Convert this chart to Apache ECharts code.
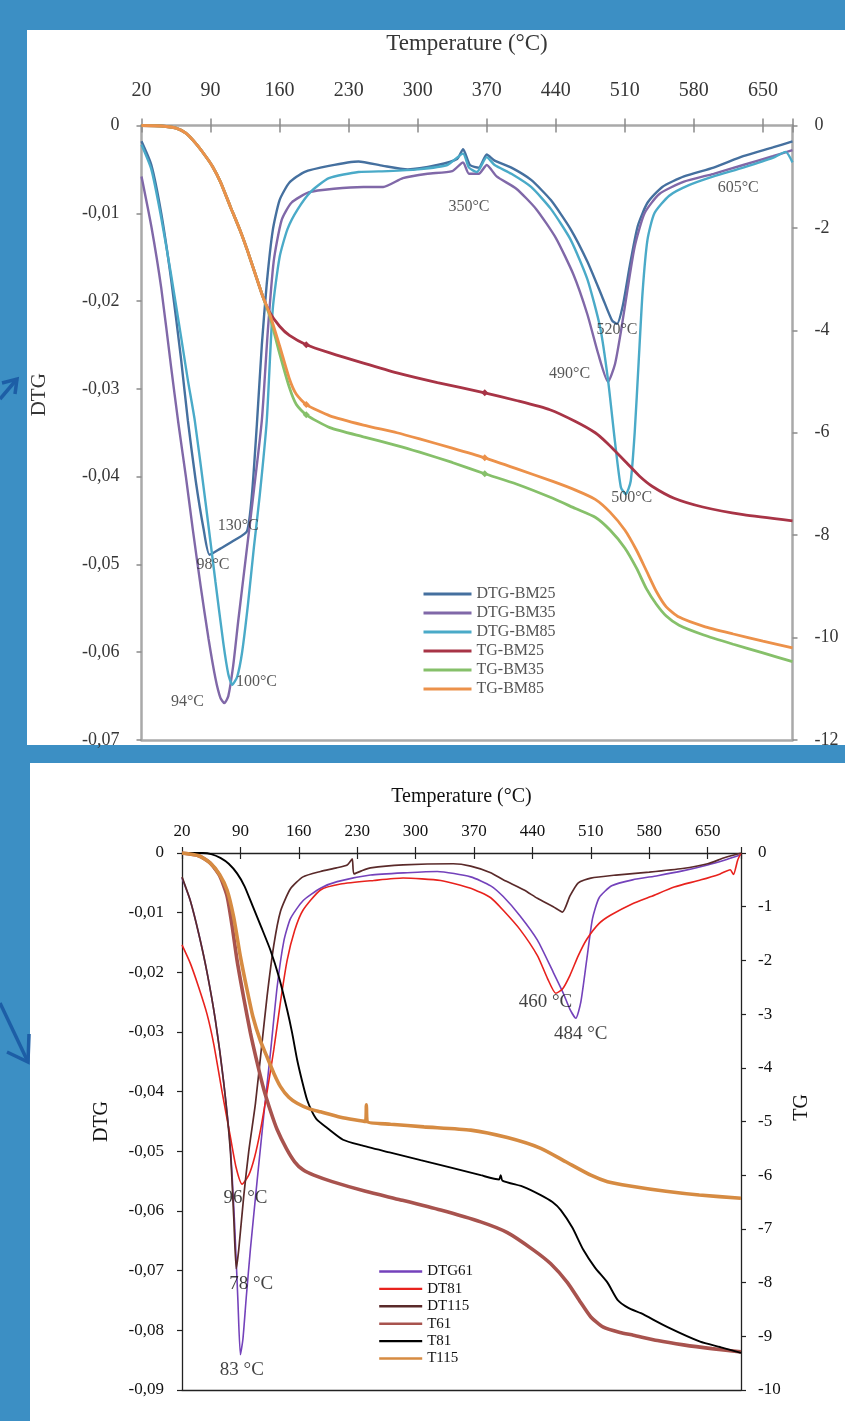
<!DOCTYPE html>
<html><head><meta charset="utf-8">
<script src="https://cdn.jsdelivr.net/npm/echarts@6/dist/echarts.min.js"></script>
<style>html,body{margin:0;padding:0;background:#3c8fc4}#c{width:845px;height:1421px}</style>
</head><body><div id="c"></div>
<script>
// ---------- tick labels ----------
const tempTicks = [20, 90, 160, 230, 300, 370, 440, 510, 580, 650];

// ---------- TOP chart: DTG series [T, DTG] ----------
const dtgBM25 = [[20,-0.0018],[30,-0.0045],[40,-0.0100],[50,-0.0175],[60,-0.0265],[67,-0.0336],[75,-0.0405],[83,-0.0460],[89,-0.0489],[100,-0.0482],[115,-0.0472],[127,-0.0462],[132,-0.0420],[137,-0.0340],[142,-0.0250],[147,-0.0180],[153,-0.0120],[160,-0.0085],[170,-0.0065],[185,-0.0053],[210,-0.0046],[240,-0.0041],[265,-0.0046],[290,-0.0050],[320,-0.0045],[340,-0.0038],[346,-0.0027],[353,-0.0045],[362,-0.0048],[370,-0.0033],[378,-0.0040],[395,-0.0048],[415,-0.0062],[435,-0.0085],[455,-0.0118],[472,-0.0155],[487,-0.0195],[497,-0.0222],[502,-0.0226],[508,-0.0205],[515,-0.0160],[523,-0.0115],[533,-0.0088],[548,-0.0070],[570,-0.0058],[600,-0.0048],[630,-0.0035],[660,-0.0025],[680,-0.0018]];
const dtgBM35 = [[20,-0.0058],[30,-0.0115],[40,-0.0185],[50,-0.0275],[57,-0.0336],[65,-0.0400],[72,-0.0460],[80,-0.0525],[88,-0.0585],[95,-0.0630],[100,-0.0652],[104,-0.0658],[108,-0.0650],[113,-0.0615],[118,-0.0565],[126,-0.0490],[134,-0.0415],[142,-0.0336],[148,-0.0235],[154,-0.0155],[162,-0.0108],[172,-0.0088],[190,-0.0076],[215,-0.0072],[245,-0.0070],[265,-0.0070],[285,-0.0060],[310,-0.0055],[335,-0.0052],[346,-0.0042],[352,-0.0055],[362,-0.0055],[370,-0.0045],[380,-0.0058],[400,-0.0072],[420,-0.0095],[440,-0.0128],[458,-0.0170],[472,-0.0215],[483,-0.0260],[493,-0.0292],[500,-0.0272],[506,-0.0235],[513,-0.0185],[520,-0.0138],[530,-0.0100],[545,-0.0078],[570,-0.0064],[600,-0.0055],[630,-0.0045],[660,-0.0035],[680,-0.0028]];
const dtgBM85 = [[20,-0.0022],[30,-0.0050],[40,-0.0105],[50,-0.0170],[60,-0.0240],[67,-0.0290],[74,-0.0336],[85,-0.0430],[95,-0.0520],[103,-0.0590],[108,-0.0625],[112,-0.0637],[117,-0.0628],[122,-0.0600],[128,-0.0545],[134,-0.0480],[140,-0.0420],[147,-0.0336],[153,-0.0210],[160,-0.0150],[168,-0.0118],[178,-0.0096],[192,-0.0075],[210,-0.0060],[240,-0.0053],[270,-0.0052],[300,-0.0050],[330,-0.0045],[346,-0.0032],[352,-0.0048],[360,-0.0053],[370,-0.0036],[378,-0.0045],[395,-0.0055],[415,-0.0070],[435,-0.0095],[455,-0.0130],[472,-0.0175],[485,-0.0230],[493,-0.0290],[500,-0.0360],[506,-0.0412],[511,-0.0420],[516,-0.0405],[520,-0.0350],[524,-0.0270],[528,-0.0190],[533,-0.0130],[540,-0.0100],[555,-0.0080],[575,-0.0068],[600,-0.0058],[630,-0.0048],[660,-0.0037],[673,-0.0030],[680,-0.0042]];

// ---------- TOP chart: TG series [T, TG] ----------
const tgBM25 = [[20,0],[40,-0.01],[55,-0.05],[65,-0.15],[75,-0.35],[85,-0.6],[92,-0.8],[100,-1.1],[110,-1.58],[120,-2.05],[127,-2.42],[135,-2.88],[143,-3.34],[150,-3.65],[160,-3.92],[170,-4.1],[187,-4.28],[211,-4.44],[245,-4.64],[279,-4.83],[320,-5.02],[368,-5.22],[400,-5.37],[434,-5.55],[460,-5.78],[480,-6.0],[492,-6.2],[512,-6.59],[525,-6.85],[538,-7.05],[560,-7.28],[589,-7.45],[630,-7.6],[680,-7.72]];
const tgBM35 = [[20,0],[40,-0.01],[55,-0.05],[65,-0.15],[75,-0.35],[85,-0.6],[92,-0.8],[100,-1.1],[110,-1.58],[120,-2.05],[127,-2.42],[135,-2.88],[143,-3.34],[150,-3.72],[160,-4.45],[170,-5.12],[177,-5.45],[187,-5.65],[211,-5.9],[245,-6.08],[279,-6.25],[302,-6.38],[335,-6.58],[368,-6.8],[400,-7.0],[437,-7.28],[460,-7.48],[480,-7.65],[495,-7.9],[510,-8.25],[522,-8.65],[532,-9.05],[542,-9.35],[552,-9.58],[565,-9.76],[590,-9.95],[620,-10.13],[650,-10.3],[680,-10.47]];
const tgBM85 = [[20,0],[40,-0.01],[55,-0.05],[65,-0.15],[75,-0.35],[85,-0.6],[92,-0.8],[100,-1.1],[110,-1.58],[120,-2.05],[127,-2.42],[135,-2.88],[143,-3.34],[150,-3.68],[160,-4.3],[170,-4.95],[177,-5.25],[187,-5.45],[211,-5.67],[245,-5.85],[279,-6.0],[302,-6.12],[335,-6.3],[368,-6.49],[400,-6.7],[437,-6.95],[460,-7.12],[480,-7.3],[495,-7.55],[510,-7.9],[522,-8.3],[532,-8.7],[542,-9.1],[552,-9.4],[565,-9.6],[590,-9.78],[620,-9.93],[650,-10.07],[680,-10.2]];
const tgMarkerTemps = [187, 368];

// ---------- TOP chart annotations [T, DTG, text] ----------
const topNotes = [[118,-0.0456,'130°C'],[92.5,-0.0500,'98°C'],[66.6,-0.0657,'94°C'],[136.6,-0.0634,'100°C'],[352,-0.0093,'350°C'],[454,-0.0283,'490°C'],[502,-0.0233,'520°C'],[517,-0.0424,'500°C'],[625,-0.0071,'605°C']];

// ---------- BOTTOM chart: DTG series ----------
const dtg61 = [[20,-0.0042],[30,-0.0080],[40,-0.0135],[50,-0.0200],[60,-0.0280],[70,-0.0385],[78,-0.0495],[83,-0.0620],[87,-0.0750],[90,-0.0841],[93,-0.0815],[97,-0.0745],[102,-0.0664],[110,-0.0550],[118,-0.0440],[126,-0.0335],[134,-0.0225],[142,-0.0148],[150,-0.0110],[165,-0.0080],[186,-0.0059],[206,-0.0048],[246,-0.0037],[290,-0.0033],[326,-0.0031],[366,-0.0040],[390,-0.0055],[405,-0.0073],[425,-0.0105],[446,-0.0146],[465,-0.0200],[477,-0.0235],[485,-0.0262],[492,-0.0277],[498,-0.0250],[505,-0.0180],[512,-0.0110],[520,-0.0075],[535,-0.0055],[560,-0.0045],[590,-0.0038],[620,-0.0030],[650,-0.0020],[670,-0.0012],[690,-0.0003]];
const dt81 = [[20,-0.0154],[30,-0.0185],[40,-0.0225],[50,-0.0270],[58,-0.0320],[68,-0.0400],[78,-0.0476],[85,-0.0528],[92,-0.0555],[100,-0.0540],[107,-0.0510],[114,-0.0465],[122,-0.0400],[130,-0.0330],[138,-0.0250],[146,-0.0180],[155,-0.0130],[165,-0.0096],[186,-0.0062],[210,-0.0052],[250,-0.0046],[285,-0.0042],[330,-0.0046],[366,-0.0059],[390,-0.0075],[405,-0.0096],[425,-0.0128],[446,-0.0172],[458,-0.0210],[468,-0.0235],[476,-0.0228],[485,-0.0205],[495,-0.0172],[505,-0.0145],[520,-0.0118],[534,-0.0104],[560,-0.0085],[582,-0.0073],[610,-0.0057],[642,-0.0045],[665,-0.0035],[677,-0.0028],[681,-0.0036],[686,-0.0012],[690,0]];
const dt115 = [[20,-0.0040],[30,-0.0080],[40,-0.0135],[50,-0.0200],[60,-0.0280],[70,-0.0385],[78,-0.0500],[82,-0.0610],[85,-0.0697],[88,-0.0665],[94,-0.0575],[100,-0.0500],[108,-0.0420],[115,-0.0330],[122,-0.0240],[130,-0.0155],[138,-0.0098],[150,-0.0060],[165,-0.0040],[186,-0.0031],[205,-0.0025],[218,-0.0020],[224,-0.0010],[226,-0.0035],[235,-0.0030],[246,-0.0025],[285,-0.0020],[345,-0.0018],[366,-0.0022],[390,-0.0033],[405,-0.0045],[430,-0.0062],[446,-0.0076],[465,-0.0090],[476,-0.0099],[485,-0.0072],[495,-0.0050],[510,-0.0042],[540,-0.0037],[580,-0.0032],[620,-0.0026],[650,-0.0018],[670,-0.0008],[690,0]];

// ---------- BOTTOM chart: TG series ----------
const t61 = [[20,0],[40,-0.05],[54,-0.19],[65,-0.42],[74,-0.8],[80,-1.35],[86,-2.0],[94,-2.7],[102,-3.35],[110,-3.9],[118,-4.4],[126,-4.8],[134,-5.15],[145,-5.5],[155,-5.75],[165,-5.9],[178,-6.0],[200,-6.12],[240,-6.3],[282,-6.46],[330,-6.65],[378,-6.87],[410,-7.07],[441,-7.39],[462,-7.65],[482,-8.0],[497,-8.35],[510,-8.64],[525,-8.83],[545,-8.93],[561,-8.98],[590,-9.08],[621,-9.16],[655,-9.23],[690,-9.29]];
const t81 = [[20,0],[45,0],[55,-0.02],[66,-0.09],[76,-0.2],[86,-0.38],[95,-0.62],[105,-1.0],[115,-1.38],[126,-1.81],[136,-2.3],[146,-2.92],[152,-3.35],[158,-3.85],[164,-4.25],[170,-4.6],[176,-4.82],[182,-4.97],[194,-5.12],[213,-5.34],[234,-5.44],[270,-5.58],[306,-5.72],[340,-5.85],[378,-6.0],[400,-6.08],[402,-6.0],[404,-6.1],[430,-6.22],[450,-6.37],[464,-6.5],[474,-6.65],[488,-6.98],[501,-7.39],[515,-7.72],[530,-8.0],[542,-8.32],[555,-8.47],[570,-8.57],[602,-8.83],[641,-9.1],[665,-9.2],[690,-9.31]];
const t115 = [[20,0],[40,-0.05],[54,-0.19],[65,-0.4],[74,-0.69],[82,-1.2],[90,-1.93],[98,-2.55],[105,-3.05],[114,-3.5],[122,-3.8],[130,-4.1],[138,-4.35],[148,-4.55],[158,-4.66],[172,-4.76],[186,-4.82],[210,-4.92],[240,-5.0],[241,-4.69],[242,-5.0],[270,-5.05],[310,-5.1],[366,-5.16],[410,-5.3],[450,-5.5],[480,-5.75],[510,-6.0],[530,-6.12],[557,-6.2],[600,-6.3],[640,-6.37],[690,-6.43]];

// ---------- BOTTOM chart annotations ----------
const botNotes = [[96,-0.0579,'96 °C'],[103,-0.0722,'78 °C'],[91.7,-0.0866,'83 °C'],[455.7,-0.0249,'460 °C'],[497.8,-0.0303,'484 °C']];

const topNames = ['DTG-BM25','DTG-BM35','DTG-BM85','TG-BM25','TG-BM35','TG-BM85'];
const botNames = ['DTG61','DT81','DT115','T61','T81','T115'];

// ---------- styling ----------
const SERIF = "'Liberation Serif','Times New Roman',serif";
const TOPTXT = '#363636', TOPAX = '#a9a9a9', TOPTICK = '#8a8a8a';
const BOTTXT = '#111', BOTAX = '#222';

const fmtT = v => tempTicks.indexOf(Math.round(v)) >= 0 ? String(Math.round(v)) : '';
const fmtDTG = v => Math.abs(v) < 1e-9 ? '0' : v.toFixed(2).replace('.', ',');
const fmtTG = v => Math.abs(v) < 1e-9 ? '0' : String(Math.round(v));

function line(name, pts, color, width, xi, yi, markers) {
  return {
    name, type: 'line', xAxisIndex: xi, yAxisIndex: yi,
    data: pts.map(p => (markers && markers.indexOf(p[0]) >= 0)
      ? { value: p, symbol: 'diamond', symbolSize: 7 } : p),
    symbol: 'none', showSymbol: true, smooth: 0.2,
    lineStyle: { color, width }, itemStyle: { color },
    silent: true, animation: false
  };
}
function notes(name, arr, xi, yi, size, color) {
  return {
    name, type: 'scatter', xAxisIndex: xi, yAxisIndex: yi, symbolSize: 1,
    itemStyle: { color: 'rgba(0,0,0,0)' }, silent: true, z: 10,
    data: arr.map(n => ({ value: [n[0], n[1]], text: n[2] })),
    label: { show: true, position: 'inside', fontFamily: SERIF, fontSize: size, color,
      formatter: p => p.data.text }
  };
}
function xAx(grid, max, pos, opts) {
  return Object.assign({ gridIndex: grid, type: 'value', position: pos, min: 20, max: max, interval: 70,
    splitLine: { show: false } }, opts);
}

const option = {
  animation: false,
  backgroundColor: '#3c8fc4',
  graphic: { elements: [
    { type: 'rect', z: -100, shape: { x: 27, y: 30, width: 818, height: 715 }, style: { fill: '#ffffff' } },
    { type: 'rect', z: -100, shape: { x: 30, y: 763, width: 815, height: 658 }, style: { fill: '#ffffff' } },
    { type: 'polyline', z: 5, shape: { points: [[0, 399], [17, 379]] }, style: { stroke: '#1d5ea6', lineWidth: 3.5, fill: null } },
    { type: 'polyline', z: 5, shape: { points: [[2, 383], [17, 379], [15, 394]] }, style: { stroke: '#1d5ea6', lineWidth: 3.5, fill: null } },
    { type: 'polyline', z: 5, shape: { points: [[0, 1003], [28, 1062]] }, style: { stroke: '#1d5ea6', lineWidth: 3.5, fill: null } },
    { type: 'polyline', z: 5, shape: { points: [[29, 1034], [28, 1062], [7, 1052]] }, style: { stroke: '#1d5ea6', lineWidth: 3.5, fill: null } }
  ]},
  grid: [
    { left: 141.5, top: 125.5, width: 651, height: 614.5 },
    { left: 182, top: 853, width: 559, height: 537 }
  ],
  xAxis: [
    xAx(0, 680, 'top', {
      name: 'Temperature (°C)', nameLocation: 'middle', nameGap: 70,
      nameTextStyle: { fontFamily: SERIF, fontSize: 23, color: TOPTXT },
      axisLine: { show: true, onZero: false, lineStyle: { color: TOPAX, width: 2.5 } },
      axisTick: { show: true, inside: false, length: 7, lineStyle: { color: TOPTICK, width: 1.5 } },
      axisLabel: { show: true, margin: 25, fontFamily: SERIF, fontSize: 20, color: TOPTXT, formatter: fmtT }
    }),
    xAx(0, 680, 'top', {
      axisLine: { show: false, onZero: false },
      axisTick: { show: true, inside: true, length: 7, lineStyle: { color: TOPTICK, width: 1.5 } },
      axisLabel: { show: false }
    }),
    xAx(0, 680, 'bottom', {
      axisLine: { show: true, onZero: false, lineStyle: { color: TOPAX, width: 2.5 } },
      axisTick: { show: false }, axisLabel: { show: false }
    }),
    xAx(1, 690, 'top', {
      name: 'Temperature (°C)', nameLocation: 'middle', nameGap: 46,
      nameTextStyle: { fontFamily: SERIF, fontSize: 20, color: BOTTXT },
      axisLine: { show: true, onZero: false, lineStyle: { color: BOTAX, width: 1.3 } },
      axisTick: { show: true, inside: false, length: 6, lineStyle: { color: BOTAX, width: 1.2 } },
      axisLabel: { show: true, margin: 13, fontFamily: SERIF, fontSize: 17, color: BOTTXT, formatter: fmtT }
    }),
    xAx(1, 690, 'top', {
      axisLine: { show: false, onZero: false },
      axisTick: { show: true, inside: true, length: 6, lineStyle: { color: BOTAX, width: 1.2 } },
      axisLabel: { show: false }
    }),
    xAx(1, 690, 'bottom', {
      axisLine: { show: true, onZero: false, lineStyle: { color: BOTAX, width: 1.3 } },
      axisTick: { show: false }, axisLabel: { show: false }
    })
  ],
  yAxis: [
    { gridIndex: 0, type: 'value', position: 'left', min: -0.07, max: 0, interval: 0.01,
      name: 'DTG', nameLocation: 'middle', nameGap: 92,
      nameTextStyle: { fontFamily: SERIF, fontSize: 21, color: TOPTXT, padding: [0, 0, 0, 76] },
      axisLine: { show: true, onZero: false, lineStyle: { color: TOPAX, width: 2.5 } },
      axisTick: { show: true, length: 5, lineStyle: { color: TOPTICK, width: 1.5 } },
      axisLabel: { margin: 22, fontFamily: SERIF, fontSize: 18, color: TOPTXT, formatter: fmtDTG },
      splitLine: { show: false } },
    { gridIndex: 0, type: 'value', position: 'right', min: -12, max: 0, interval: 2,
      axisLine: { show: true, onZero: false, lineStyle: { color: TOPAX, width: 2.5 } },
      axisTick: { show: true, length: 5, lineStyle: { color: TOPTICK, width: 1.5 } },
      axisLabel: { margin: 22, fontFamily: SERIF, fontSize: 18, color: TOPTXT, formatter: fmtTG },
      splitLine: { show: false } },
    { gridIndex: 1, type: 'value', position: 'left', min: -0.09, max: 0, interval: 0.01,
      name: 'DTG', nameLocation: 'middle', nameGap: 70,
      nameTextStyle: { fontFamily: SERIF, fontSize: 20, color: BOTTXT },
      axisLine: { show: true, onZero: false, lineStyle: { color: BOTAX, width: 1.3 } },
      axisTick: { show: true, length: 5, lineStyle: { color: BOTAX, width: 1.2 } },
      axisLabel: { margin: 18, fontFamily: SERIF, fontSize: 17, color: BOTTXT, formatter: fmtDTG },
      splitLine: { show: false } },
    { gridIndex: 1, type: 'value', position: 'right', min: -10, max: 0, interval: 1,
      name: 'TG', nameLocation: 'middle', nameGap: 48,
      nameTextStyle: { fontFamily: SERIF, fontSize: 20, color: BOTTXT, padding: [0, 0, 0, 28] },
      axisLine: { show: true, onZero: false, lineStyle: { color: BOTAX, width: 1.3 } },
      axisTick: { show: true, length: 5, lineStyle: { color: BOTAX, width: 1.2 } },
      axisLabel: { margin: 17, fontFamily: SERIF, fontSize: 17, color: BOTTXT, formatter: fmtTG },
      splitLine: { show: false } }
  ],
  legend: [
    { data: topNames, left: 422, top: 586, orient: 'vertical', padding: 0, selectedMode: false,
      itemWidth: 48, itemHeight: 14, itemGap: 3, itemStyle: { opacity: 0 }, lineStyle: { width: 3 },
      textStyle: { fontFamily: SERIF, fontSize: 16, color: '#555' } },
    { data: botNames, left: 378, top: 1264, orient: 'vertical', padding: 0, selectedMode: false,
      itemWidth: 43, itemHeight: 12, itemGap: 2.4, itemStyle: { opacity: 0 }, lineStyle: { width: 2.4 },
      textStyle: { fontFamily: SERIF, fontSize: 15, color: BOTTXT } }
  ],
  series: [
    line('DTG-BM25', dtgBM25, '#45709f', 2.4, 0, 0),
    line('DTG-BM35', dtgBM35, '#8068a8', 2.4, 0, 0),
    line('DTG-BM85', dtgBM85, '#4aaac8', 2.4, 0, 0),
    line('TG-BM25', tgBM25, '#a83446', 2.8, 0, 1, tgMarkerTemps),
    line('TG-BM35', tgBM35, '#86c06a', 2.8, 0, 1, tgMarkerTemps),
    line('TG-BM85', tgBM85, '#ec914a', 2.8, 0, 1, tgMarkerTemps),
    notes('topNotes', topNotes, 0, 0, 16, '#2e2e2e'),
    line('DTG61', dtg61, '#7442bb', 1.6, 3, 2),
    line('DT81', dt81, '#e8221d', 1.6, 3, 2),
    line('DT115', dt115, '#5a2a2a', 1.7, 3, 2),
    line('T61', t61, '#a8534e', 3.6, 3, 3),
    line('T81', t81, '#000000', 1.9, 3, 3),
    line('T115', t115, '#d68b42', 3.6, 3, 3),
    notes('botNotes', botNotes, 3, 2, 19, '#111')
  ]
};

const chart = echarts.init(document.getElementById('c'), null, { renderer: 'canvas' });
chart.setOption(option);
</script></body></html>
